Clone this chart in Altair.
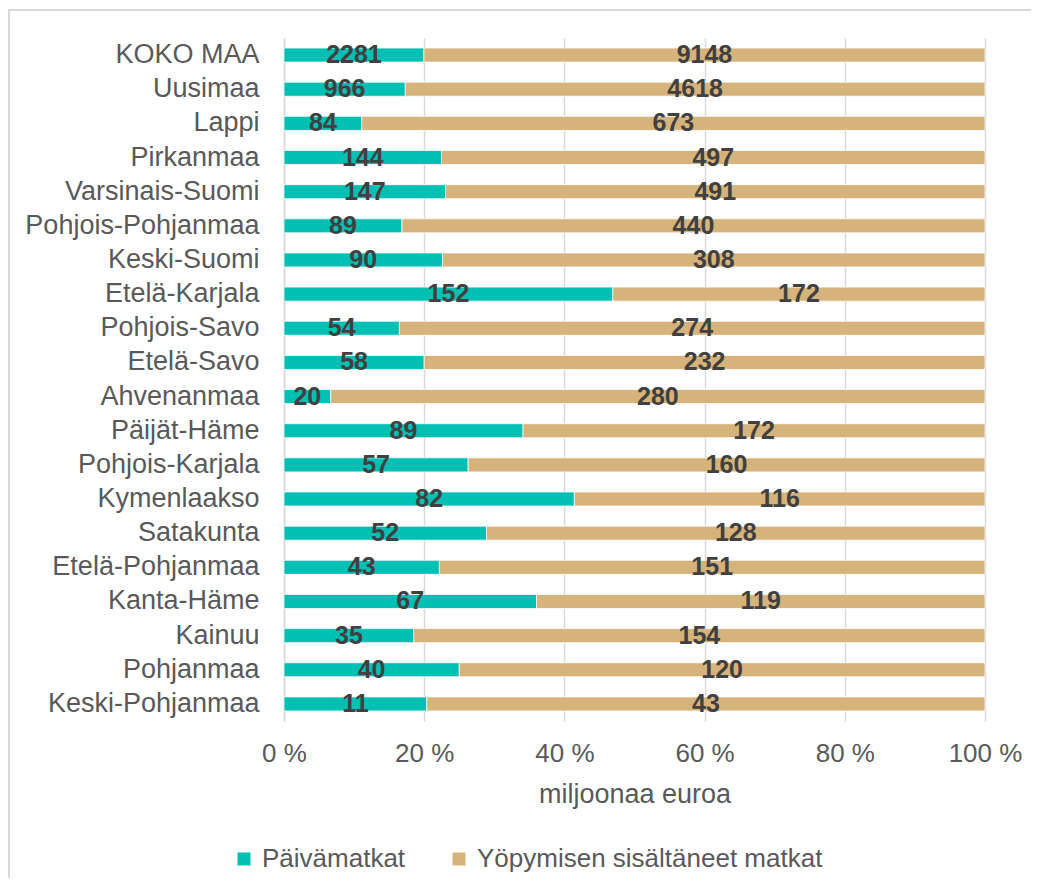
import altair as alt
import pandas as pd

regions = ["KOKO MAA", "Uusimaa", "Lappi", "Pirkanmaa", "Varsinais-Suomi",
           "Pohjois-Pohjanmaa", "Keski-Suomi", "Etelä-Karjala", "Pohjois-Savo",
           "Etelä-Savo", "Ahvenanmaa", "Päijät-Häme", "Pohjois-Karjala",
           "Kymenlaakso", "Satakunta", "Etelä-Pohjanmaa", "Kanta-Häme",
           "Kainuu", "Pohjanmaa", "Keski-Pohjanmaa"]
day_trips = [2281, 966, 84, 144, 147, 89, 90, 152, 54, 58, 20, 89, 57, 82, 52,
             43, 67, 35, 40, 11]
overnight_trips = [9148, 4618, 673, 497, 491, 440, 308, 172, 274, 232, 280, 172,
                   160, 116, 128, 151, 119, 154, 120, 43]
series_names = ["Päivämatkat", "Yöpymisen sisältäneet matkat"]
colors = ["#00BFB3", "#D6B37B"]
x_ticks = [0, 0.2, 0.4, 0.6, 0.8, 1.0]

rows = []
for r, d, o in zip(regions, day_trips, overnight_trips):
    rows.append({"region": r, "series": series_names[0], "value": d, "order": 0})
    rows.append({"region": r, "series": series_names[1], "value": o, "order": 1})
df = pd.DataFrame(rows)

FONT = "Liberation Sans"
GRAY = "#595959"
GRID = "#D9D9D9"
W, H = 701, 683

base = alt.Chart(df).transform_stack(
    stack="value", groupby=["region"], as_=["x0", "x1"], offset="normalize",
    sort=[alt.SortField("order", order="ascending")]
).transform_calculate(mid="(datum.x0 + datum.x1) / 2")

y_enc = alt.Y("region:N", sort=regions,
              scale=alt.Scale(paddingInner=0.59, paddingOuter=0.295),
              axis=alt.Axis(title=None, labelFontSize=27, labelColor=GRAY,
                            labelFont=FONT, labelPadding=25, ticks=False,
                            domainColor=GRID, domainWidth=1.5, grid=False,
                            labelLimit=400))

bars = base.mark_bar(stroke="white", strokeWidth=0.75).encode(
    x=alt.X("x0:Q", scale=alt.Scale(domain=[0, 1], nice=False),
            axis=alt.Axis(values=x_ticks,
                          labelExpr="round(datum.value*100) + ' %'",
                          labelFlush=False,
                          title="miljoonaa euroa", titleFontSize=27,
                          titleFontWeight="normal", titleColor=GRAY,
                          titleFont=FONT, titlePadding=15,
                          labelFontSize=26, labelColor=GRAY, labelFont=FONT,
                          labelPadding=19, ticks=False, domain=False,
                          grid=True, gridColor=GRID, gridWidth=1.5)),
    x2="x1:Q",
    y=y_enc,
    color=alt.Color("series:N", sort=series_names,
                    scale=alt.Scale(domain=series_names, range=colors),
                    legend=alt.Legend(orient="none", legendX=-53, legendY=808,
                                      direction="horizontal", title=None,
                                      symbolType="square", symbolSize=169,
                                      symbolStrokeWidth=0,
                                      labelFontSize=26, labelColor=GRAY,
                                      labelFont=FONT, labelOffset=5,
                                      columnPadding=40, labelLimit=600)),
)

labels = base.mark_text(font=FONT, fontSize=25, fontWeight="bold",
                        color="#404040", baseline="middle").encode(
    x="mid:Q",
    y=alt.Y("region:N", sort=regions),
    text="value:Q",
)

dummy = pd.DataFrame({"k": [0]})
left_line = alt.Chart(dummy).mark_rule(color=GRID, strokeWidth=2).encode(
    x=alt.value(-275), y=alt.value(-28), y2=alt.value(H + 300))
top_line = alt.Chart(dummy).mark_rule(color=GRID, strokeWidth=2).encode(
    x=alt.value(-276), x2=alt.value(W + 200), y=alt.value(-28))

chart = alt.layer(bars, labels, left_line, top_line).properties(
    width=W, height=H,
    autosize=alt.AutoSizeParams(type="none"),
    padding={"left": 276, "top": 30, "right": 46, "bottom": 157},
).configure_view(stroke=None)

chart.save("out.html", embed_options={"renderer": "svg", "actions": False})
